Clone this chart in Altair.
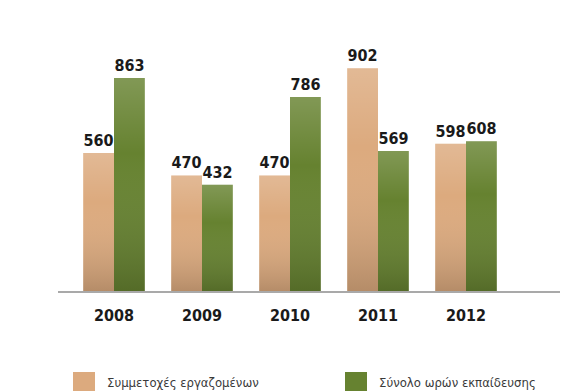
import altair as alt
import pandas as pd

years = ["2008", "2009", "2010", "2011", "2012"]
series = ["Συμμετοχές εργαζομένων", "Σύνολο ωρών εκπαίδευσης"]
participations = [560, 470, 470, 902, 598]
hours = [863, 432, 786, 569, 608]
colors = ["#dcaa7e", "#668230"]

rows = []
for i, y in enumerate(years):
    rows.append({"year": y, "series": series[0], "value": participations[i]})
    rows.append({"year": y, "series": series[1], "value": hours[i]})
df = pd.DataFrame(rows)

FONT = "DejaVu Sans Condensed, Liberation Sans Narrow, Liberation Sans, sans-serif"

x = alt.X("year:N", sort=years,
          scale=alt.Scale(paddingInner=0.3, paddingOuter=0.15),
          axis=alt.Axis(title=None, labelAngle=0, domain=False, ticks=False,
                        labelFont=FONT, labelFontSize=16, labelFontWeight="bold",
                        labelColor="#1a1a1a", labelPadding=15))
y = alt.Y("value:Q", scale=alt.Scale(domain=[0, 1000]), axis=None)
xoff = alt.XOffset("series:N", sort=series, scale=alt.Scale(paddingInner=0, paddingOuter=0))

base = alt.Chart(df)

bars = base.mark_bar().encode(
    x=x, y=y, xOffset=xoff,
    color=alt.Color("series:N", sort=series,
                    scale=alt.Scale(domain=series, range=colors),
                    legend=alt.Legend(title=None, orient="none", legendX=3, legendY=328,
                                      direction="horizontal", columns=2, columnPadding=86,
                                      symbolType="square", symbolSize=484, symbolStrokeWidth=0,
                                      labelFont=FONT, labelFontSize=13, labelColor="#3a3a3a",
                                      labelOffset=12, labelLimit=300)),
)

shade = base.mark_bar(
    color=alt.Gradient(
        gradient="linear", x1=0, x2=0, y1=0, y2=1,
        stops=[alt.GradientStop(color="rgba(255,255,255,0.18)", offset=0),
               alt.GradientStop(color="rgba(255,255,255,0.0)", offset=0.35),
               alt.GradientStop(color="rgba(0,0,0,0.18)", offset=1)])
).encode(x=x, y=y, xOffset=xoff)

labels = base.mark_text(dy=-12, font=FONT, fontSize=16, fontWeight="bold",
                        color="#1a1a1a").encode(
    x=x, y=y, xOffset=xoff, text=alt.Text("value:Q"),
)

baseline = alt.Chart(df).mark_rule(color="#a9a9a9", strokeWidth=2).encode(
    x=alt.value(-12), x2=alt.value(490), y=alt.value(248)
)

chart = alt.layer(bars, shade, labels, baseline).properties(
    width=440, height=248,
    padding={"left": 62, "top": 36, "right": 66, "bottom": 100},
    autosize=alt.AutoSizeParams(type="none"),
    background="#ffffff",
).configure_view(stroke=None)

chart.save("out.html", embed_options={"renderer": "svg", "actions": False})
